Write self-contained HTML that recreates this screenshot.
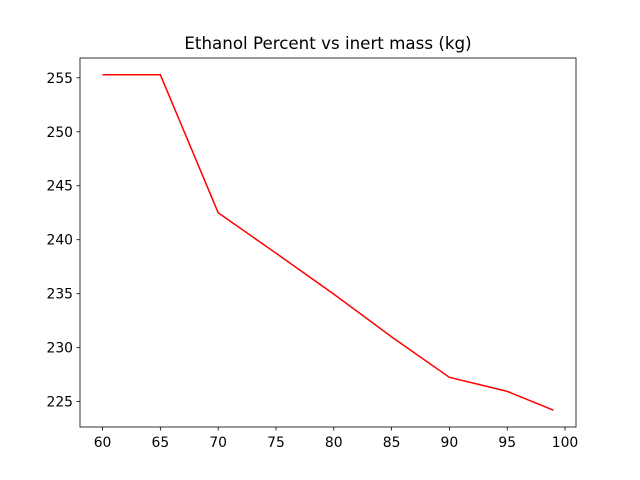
<!DOCTYPE html>
<html><head><meta charset="utf-8"><style>body{margin:0;background:#fff}svg{display:block;font-family:"DejaVu Sans","Liberation Sans",sans-serif}</style></head>
<body>
<svg id="chart" width="640" height="480"></svg>
<script>
const xValues=[60,65,70,75,80,85,90,95,99];
const yValues=[255.28,255.28,242.5,238.75,234.96,231.0,227.25,225.95,224.2];
const xTicks=[60,65,70,75,80,85,90,95,100];
const yTicks=[225,230,235,240,245,250,255];
const titleText="Ethanol Percent vs inert mass (kg)";
const L=80,R=576,T=58,B=427;
const xmin=Math.min(...xValues),xmax=Math.max(...xValues),ymin=Math.min(...yValues),ymax=Math.max(...yValues);
const x0=xmin-(xmax-xmin)*0.05,x1=xmax+(xmax-xmin)*0.05,y0=ymin-(ymax-ymin)*0.05,y1=ymax+(ymax-ymin)*0.05;
const sx=v=>L+(v-x0)/(x1-x0)*(R-L);
const sy=v=>B-(v-y0)/(y1-y0)*(B-T);
const svg=document.getElementById('chart');const NS='http://www.w3.org/2000/svg';
function mk(t,a){const e=document.createElementNS(NS,t);for(const k in a)e.setAttribute(k,a[k]);svg.appendChild(e);return e;}
const pl=mk('polyline',{points:xValues.map((x,i)=>sx(x)+','+sy(yValues[i])).join(' '),fill:'none',stroke:'#ff0000','stroke-width':1.5});


const fr=mk('rect',{x:L,y:T,width:R-L,height:B-T,fill:'none',stroke:'#000','stroke-width':0.8});


xTicks.forEach(v=>{const x=sx(v);mk('line',{x1:x,x2:x,y1:B,y2:B+3.5,stroke:'#000','stroke-width':0.8});
const t=mk('text',{x:x,y:B+20,'text-anchor':'middle','font-size':13.9});t.textContent=v;

});
yTicks.forEach(v=>{const y=sy(v);mk('line',{x1:L-3.5,x2:L,y1:y,y2:y,stroke:'#000','stroke-width':0.8});
const t=mk('text',{x:L-7,y:y+5,'text-anchor':'end','font-size':13.9});t.textContent=v;

});
const tt=mk('text',{x:(L+R)/2,y:49,'text-anchor':'middle','font-size':16.7});tt.textContent=titleText;


</script>
</body></html>
